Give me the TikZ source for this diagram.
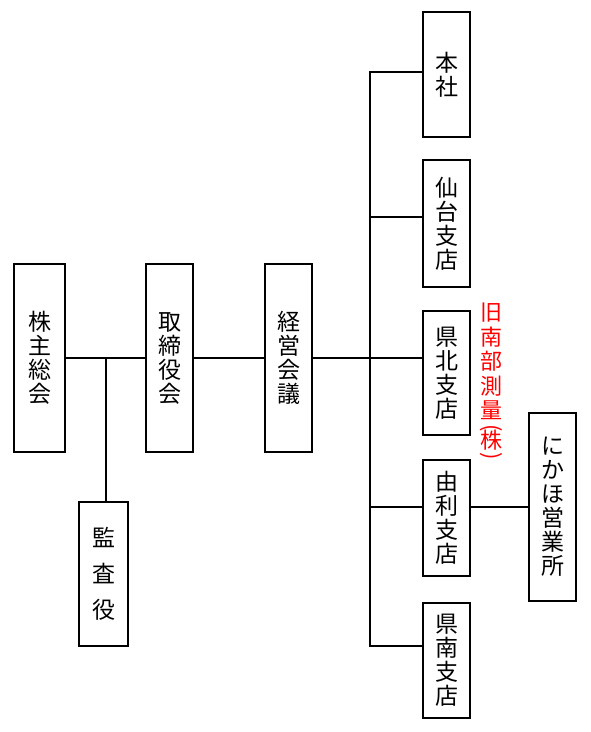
\documentclass[tikz,border=0pt]{standalone}
\usepackage{fontspec}
\newfontfamily\jp{Noto Sans CJK JP}
\newcommand{\vparen}[1]{\smash{\rotatebox[origin=c]{-90}{#1}}}
\begin{document}
\begin{tikzpicture}[x=1pt,y=-1pt,
  box/.style={draw, line width=1.7pt, inner sep=0pt, align=center,
    font=\jp\fontsize{23}{24}\selectfont},
  conn/.style={line width=1.7pt},
  redlabel/.style={inner sep=0pt, align=center, text=red,
    font=\jp\fontsize{22}{24.5}\selectfont}]
\useasboundingbox (0,0) rectangle (590,732);
% boxes
\node[box, minimum width=51pt, minimum height=188pt] (kabu) at (39.5,358) {株\\主\\総\\会};
\node[box, minimum width=47pt, minimum height=188pt] (tori) at (169.5,358) {取\\締\\役\\会};
\node[box, minimum width=47pt, minimum height=188pt] (keiei) at (288.5,358) {経\\営\\会\\議};
\node[box, minimum width=49pt, minimum height=144pt,
  font=\jp\fontsize{23}{36}\selectfont] (kansa) at (103.5,574) {監\\査\\役};
\node[box, minimum width=47pt, minimum height=125pt] (hq) at (446.5,74.5) {本\\社};
\node[box, minimum width=47pt, minimum height=127pt] (sendai) at (446.5,223.5) {仙\\台\\支\\店};
\node[box, minimum width=47pt, minimum height=124pt] (kenpoku) at (446.5,373) {県\\北\\支\\店};
\node[box, minimum width=47pt, minimum height=116pt] (yuri) at (446.5,518) {由\\利\\支\\店};
\node[box, minimum width=47pt, minimum height=115pt] (kennan) at (446.5,660.5) {県\\南\\支\\店};
\node[box, minimum width=47pt, minimum height=188pt] (nikaho) at (552.5,507) {に\\か\\ほ\\営\\業\\所};
% red label
\node[redlabel, anchor=north] (old) at (491,303)
  {旧\\南\\部\\測\\量\\[-8.2pt]\vparen{(}\\[-10.8pt]株\\[-10.2pt]\vparen{)}};
% junction coordinates
\coordinate (j1) at (106,358);
\coordinate (bustop) at (370,72);
\coordinate (bus2) at (370,217);
\coordinate (bus3) at (370,358);
\coordinate (bus4) at (370,507);
\coordinate (busbot) at (370,646);
% connectors
\draw[conn] (kabu.east |- j1) -- (tori.west |- j1);
\draw[conn] (j1) -- (j1 |- kansa.north);
\draw[conn] (tori.east |- j1) -- (keiei.west |- j1);
\draw[conn] (keiei.east |- bus3) -- (kenpoku.west |- bus3);
\draw[conn] (hq.west |- bustop) -- (bustop) -- (busbot) -- (kennan.west |- busbot);
\draw[conn] (bus2) -- (sendai.west |- bus2);
\draw[conn] (bus4) -- (yuri.west |- bus4);
\draw[conn] (yuri.east |- bus4) -- (nikaho.west |- bus4);
\end{tikzpicture}
\end{document}
